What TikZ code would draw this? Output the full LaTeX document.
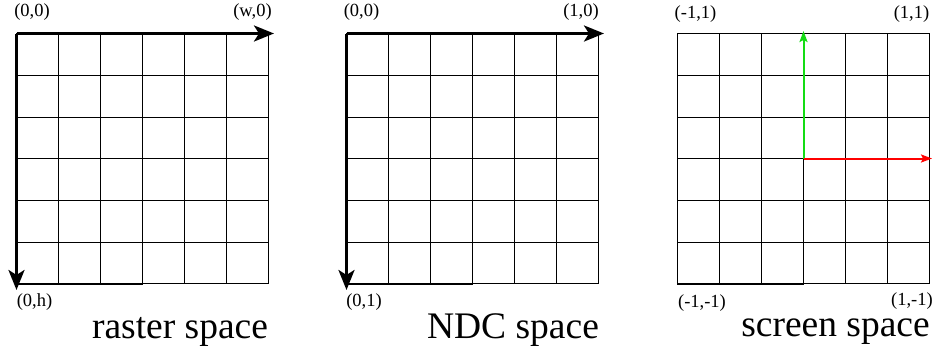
\documentclass[tikz,border=0pt]{standalone}
\usepackage{fontspec}
\setmainfont{Liberation Serif}
\usetikzlibrary{arrows.meta}
\definecolor{upgreen}{RGB}{20,220,20}
\definecolor{rightred}{RGB}{255,0,0}
\begin{document}
\begin{tikzpicture}[x=1pt,y=-1pt,
  gridline/.style={line width=1pt,black},
  edgeline/.style={line width=2pt,black},
  axisarrow/.style={line width=3pt,black,-{Stealth[length=20pt,width=16pt,inset=5pt]}},
  colarrow/.style={line width=2pt,-{Stealth[length=11pt,width=8pt,inset=2pt]}},
  corner/.style={inner sep=0pt,font=\fontsize{18.5}{19}\selectfont},
  caption/.style={inner sep=0pt,anchor=base,font=\fontsize{37.5}{40}\selectfont}]
\useasboundingbox (0,0) rectangle (936,351);
% grids
\foreach \gx in {16,346,677}{
  \foreach \i in {0,...,6}{
    \draw[gridline] ({\gx+\i*42+0.5},33) -- ({\gx+\i*42+0.5},284);
  }
  \foreach \yy in {33,75,117,158,200,242,283}{
    \draw[gridline] (\gx,\yy+0.5) -- ({\gx+253},\yy+0.5);
  }
  \draw[edgeline] (\gx,283.5) -- ({\gx+126.5},283.5);
}
% raster space
\coordinate (r0) at (16.5,33.5);
\coordinate (rw) at (274,33.5);
\coordinate (rh) at (16.5,290);
\draw[axisarrow] (r0) -- (rw);
\draw[axisarrow] (r0) -- (rh);
\node[corner] (r00) at (32,12) {(0,0)};
\node[corner] (rw0) at (252.5,12) {(w,0)};
\node[corner] (r0h) at (34.5,302) {(0,h)};
\node[caption] (rcap) at (180,338) {raster space};
% NDC space
\coordinate (n0) at (346.5,33.5);
\coordinate (nw) at (604,33.5);
\coordinate (nh) at (346.5,290);
\draw[axisarrow] (n0) -- (nw);
\draw[axisarrow] (n0) -- (nh);
\node[corner] (n00) at (361.5,12) {(0,0)};
\node[corner] (n10) at (581,12) {(1,0)};
\node[corner] (n01) at (364,302.5) {(0,1)};
\node[caption] (ncap) at (513,338) {NDC space};
% screen space
\coordinate (s0) at (803.5,158.5);
\coordinate (sup) at (803.5,31);
\coordinate (sright) at (932,158.5);
\draw[colarrow,upgreen] (s0) -- (sup);
\draw[colarrow,rightred] (s0) -- (sright);
\node[corner] (sm11) at (695.5,14) {(-1,1)};
\node[corner] (s11) at (911.5,14) {(1,1)};
\node[corner] (smm) at (702,303) {(-1,-1)};
\node[corner] (s1m) at (912,301.5) {(1,-1)};
\node[caption,text height=0.45em] (scap) at (835.5,336.5) {screen space};
\end{tikzpicture}
\end{document}
